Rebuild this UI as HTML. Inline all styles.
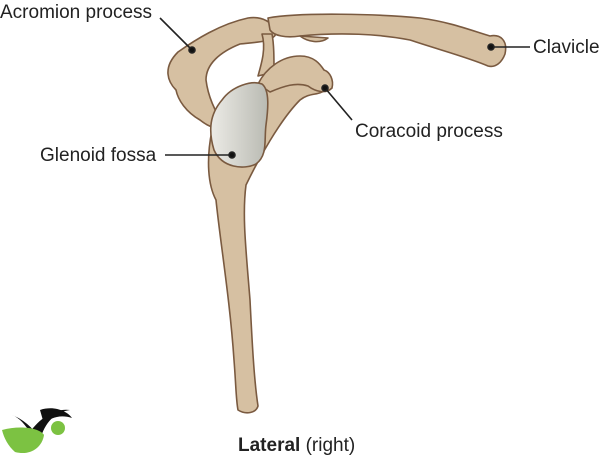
<!DOCTYPE html>
<html><head><style>
body{margin:0;background:#fff;width:600px;height:456px;overflow:hidden;font-family:"Liberation Sans",sans-serif}
</style></head><body>
<svg width="600" height="456" viewBox="0 0 600 456" xmlns="http://www.w3.org/2000/svg">
<defs><linearGradient id="g" x1="0" y1="0" x2="1" y2="0"><stop offset="0" stop-color="#ecebe6"/><stop offset="1" stop-color="#b9bab2"/></linearGradient></defs>
<g stroke="#7a5a40" stroke-width="1.6" stroke-linejoin="round" fill="#d6c0a2">
<path d="M212,130 C206,160 208,185 216,200 C220,240 230,300 234,360 C236,385 236,400 238,410 C246,415 256,413 258,406 C254,380 252,340 250,300 C246,250 242,215 246,185 C258,160 280,120 300,100 C310,92 318,96 325,90 L300,70 C285,78 270,84 262,92 Z"/>
<path d="M178,52 C195,40 220,24 248,18 C262,16 274,22 276,34 C272,42 258,42 240,44 C220,52 206,64 206,80 C208,96 215,112 225,126 C218,130 210,128 200,120 C186,112 178,100 176,90 C168,82 162,68 178,52 Z"/>
<path d="M262,34 C266,48 262,62 258,76 L274,72 C274,58 274,44 272,34 Z"/>
<path d="M258,84 C266,68 282,56 300,56 C314,56 320,64 324,70 C330,72 334,80 332,88 C326,94 316,92 308,86 C296,82 284,86 270,92 Z"/>
<path d="M268,18 C300,12 380,14 420,18 C450,22 470,30 490,36 C500,34 508,40 505,54 C502,62 496,68 488,66 C470,58 440,50 410,40 C380,34 340,32 300,36 C286,38 274,36 270,30 Z"/>
<path d="M300,36 C308,42 320,44 328,38 Z"/>
<path d="M222,100 C232,86 252,80 262,84 C270,90 268,110 266,125 C264,140 268,155 256,164 C244,170 222,168 214,150 C208,130 210,114 222,100 Z" fill="url(#g)"/>
</g>
<g stroke="#222" stroke-width="1.6" fill="#111">
<line x1="160" y1="18" x2="192" y2="50"/><circle cx="192" cy="50" r="3"/>
<line x1="491" y1="47" x2="530" y2="47"/><circle cx="491" cy="47" r="3"/>
<line x1="325" y1="88" x2="352" y2="120"/><circle cx="325" cy="88" r="3"/>
<line x1="165" y1="155" x2="232" y2="155"/><circle cx="232" cy="155" r="3"/>
</g>
<g font-size="19" fill="#222" font-family="Liberation Sans,sans-serif">
<text x="0" y="18">Acromion process</text>
<text x="533" y="53">Clavicle</text>
<text x="355" y="137">Coracoid process</text>
<text x="40" y="161">Glenoid fossa</text>
<text x="238" y="451"><tspan font-weight="bold">Lateral</tspan> (right)</text>
</g>
<path d="M12,415 C20,418 25,425 30,432 C40,418 55,408 70,410 C55,412 45,422 40,440 C35,430 25,420 12,415Z" fill="#111"/>
<path d="M40,410 C55,405 68,412 72,418 C60,414 50,418 44,424 Z" fill="#111"/>
<path d="M2,430 C20,425 40,428 44,435 C42,448 30,456 15,452 C8,446 4,438 2,430Z" fill="#7cc242"/>
<circle cx="58" cy="428" r="7" fill="#7cc242"/>
</svg>
</body></html>
